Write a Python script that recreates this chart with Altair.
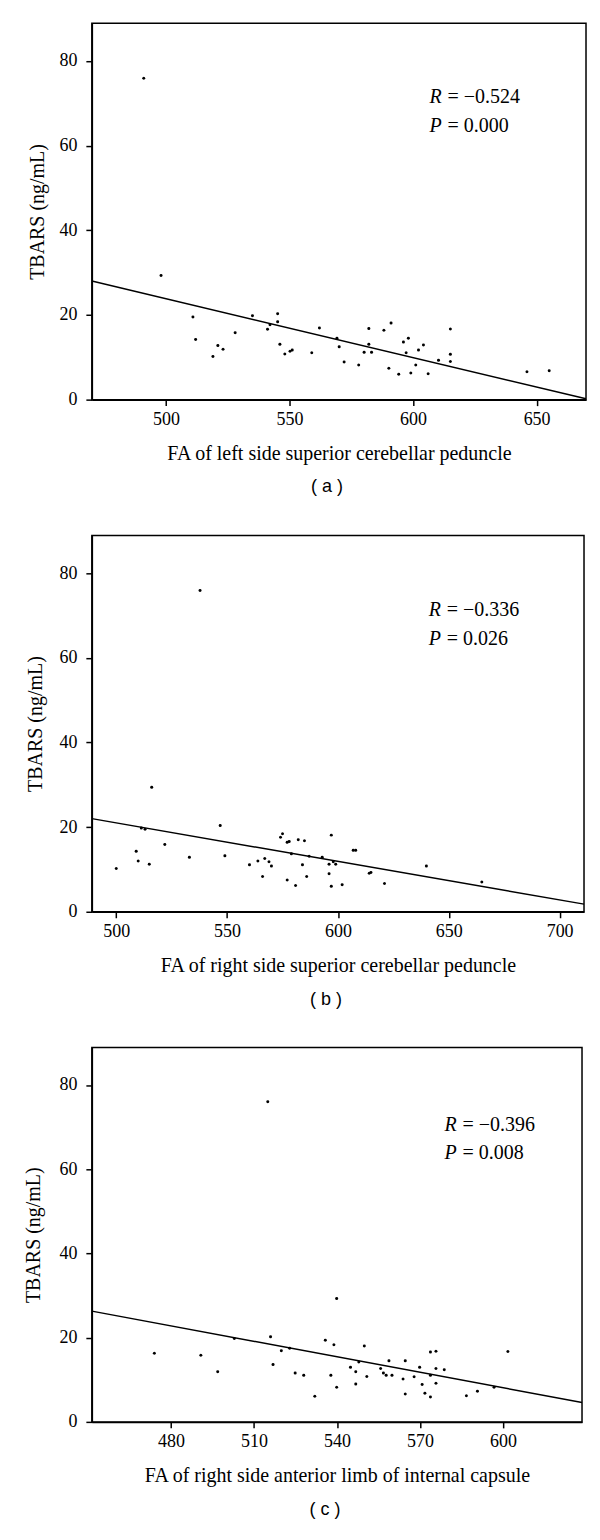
import altair as alt
import pandas as pd

# ---------------- data ----------------
# Panel (a): FA of left side superior cerebellar peduncle
a_x = [491.0, 498.0, 510.9, 512.0, 519.0, 521.0, 523.1, 528.0, 535.0, 541.1,
       542.1, 545.2, 545.2, 546.1, 548.1, 550.2, 551.1, 559.0, 562.1, 569.2,
       570.1, 572.1, 578.0, 580.2, 582.1, 582.1, 583.2, 588.2, 590.2, 591.1,
       594.2, 596.1, 597.2, 598.1, 599.1, 601.1, 602.2, 604.2, 606.1, 610.3,
       615.1, 615.1, 615.1, 646.1, 655.1]
a_y = [75.9, 29.3, 19.5, 14.2, 10.2, 12.8, 11.9, 15.8, 19.8, 16.6,
       17.7, 20.3, 18.4, 13.1, 10.8, 11.4, 11.7, 11.1, 16.9, 14.5,
       12.5, 8.9, 8.2, 11.2, 16.8, 13.1, 11.2, 16.4, 7.4, 18.1,
       6.0, 13.6, 11.1, 14.5, 6.3, 8.2, 11.7, 12.9, 6.1, 9.3,
       16.7, 10.7, 9.0, 6.6, 6.8]
a_line_x = [470, 670]
a_line_y = [28.0, 0.2]

# Panel (b): FA of right side superior cerebellar peduncle
b_x = [537.8, 516.0, 500.0, 509.0, 509.9, 511.3, 513.0, 514.9, 521.9, 533.0,
       546.9, 549.0, 560.1, 563.9, 566.0, 567.0, 568.9, 570.0, 574.1, 575.0,
       577.1, 578.0, 577.1, 579.0, 580.9, 582.1, 584.0, 584.9, 585.9, 587.0,
       592.9, 596.0, 596.0, 597.0, 597.0, 597.9, 599.0, 601.9, 606.9, 608.0,
       614.1, 614.9, 621.0, 639.9, 664.9]
b_y = [75.9, 29.4, 10.2, 14.3, 12.0, 19.8, 19.5, 11.2, 15.9, 12.9,
       20.4, 13.2, 11.1, 12.0, 8.3, 12.6, 11.8, 10.8, 17.6, 18.4,
       16.4, 16.6, 7.5, 13.7, 6.2, 17.0, 11.1, 16.8, 8.3, 13.1,
       12.9, 11.2, 9.0, 18.1, 6.0, 11.8, 11.2, 6.4, 14.5, 14.5,
       9.1, 9.3, 6.7, 10.8, 7.0]
b_line_x = [489, 711]
b_line_y = [22.0, 1.8]

# Panel (c): FA of right side anterior limb of internal capsule
c_x = [515.0, 539.9, 474.0, 490.8, 496.9, 502.9, 516.0, 516.9, 519.9, 522.9,
       524.9, 528.0, 532.0, 535.8, 537.8, 538.9, 539.9, 544.9, 546.8, 546.8,
       547.9, 549.9, 550.8, 555.8, 556.8, 557.8, 558.8, 559.9, 563.9, 564.7,
       564.7, 567.9, 569.9, 570.8, 571.8, 573.8, 573.8, 573.8, 575.8, 575.8,
       575.8, 578.8, 586.8, 590.8, 596.8, 601.8]
c_y = [76.0, 29.3, 16.3, 15.8, 11.9, 19.8, 20.2, 13.6, 16.9, 17.5,
       11.6, 11.1, 6.1, 19.4, 11.1, 18.3, 8.2, 13.0, 11.9, 9.0,
       14.2, 18.0, 10.8, 12.7, 11.6, 11.1, 14.5, 11.1, 10.2, 14.5,
       6.6, 10.7, 13.0, 8.9, 6.8, 16.6, 11.1, 5.9, 16.8, 12.7,
       9.2, 12.4, 6.2, 7.3, 8.2, 16.7]
c_line_x = [451.4, 628.6]
c_line_y = [26.3, 4.6]

x_titles = ["FA of left side superior cerebellar peduncle",
            "FA of right side superior cerebellar peduncle",
            "FA of right side anterior limb of internal capsule"]
x_ticks = [[500, 550, 600, 650],
           [500, 550, 600, 650, 700],
           [480, 510, 540, 570, 600]]
x_domains = [[470, 670], [489, 711], [451.4, 628.6]]
y_ticks = [0, 20, 40, 60, 80]
y_title = "TBARS (ng/mL)"
r_texts = ["= \u22120.524", "= \u22120.336", "= \u22120.396"]
p_texts = ["= 0.000", "= 0.026", "= 0.008"]
ann_x = [606.7, 641.0, 578.9]
ann_r_y = [70.0, 69.8, 69.0]
ann_p_y = [63.3, 63.1, 62.5]
panel_labels = ["( a )", "( b )", "( c )"]

SERIF = "Liberation Serif"
SANS = "Liberation Sans"


def panel(i, xs, ys, lx, ly, width, height, ytp):
    pts = pd.DataFrame({"x": xs, "y": ys})
    ln = pd.DataFrame({"x": lx, "y": ly})
    ann = pd.DataFrame({"x": [ann_x[i], ann_x[i]],
                        "y": [ann_r_y[i], ann_p_y[i]],
                        "sym": ["R", "P"],
                        "rest": [r_texts[i], p_texts[i]]})
    xscale = alt.Scale(domain=x_domains[i], nice=False, zero=False)
    yscale = alt.Scale(domain=[0, 88.9], nice=False, zero=False)
    xaxis = alt.Axis(values=x_ticks[i], title=x_titles[i], grid=False,
                     labelPadding=5, titlePadding=15, format="d")
    yaxis = alt.Axis(values=y_ticks, title=y_title, grid=False,
                     labelPadding=9, titlePadding=ytp, format="d")

    line = alt.Chart(ln).mark_line(color="black", strokeWidth=1.5, clip=True).encode(
        x=alt.X("x:Q", scale=xscale, axis=xaxis),
        y=alt.Y("y:Q", scale=yscale, axis=yaxis))
    points = alt.Chart(pts).mark_circle(size=9, color="black", opacity=1).encode(
        x=alt.X("x:Q", scale=xscale),
        y=alt.Y("y:Q", scale=yscale))
    sym = alt.Chart(ann).mark_text(align="left", baseline="alphabetic", font=SERIF,
                                   fontSize=20, fontStyle="italic", color="black").encode(
        x=alt.X("x:Q", scale=xscale), y=alt.Y("y:Q", scale=yscale), text="sym:N")
    rest = alt.Chart(ann).mark_text(align="left", baseline="alphabetic", font=SERIF,
                                    fontSize=20, dx=18, color="black").encode(
        x=alt.X("x:Q", scale=xscale), y=alt.Y("y:Q", scale=yscale), text="rest:N")

    return alt.layer(line, points, sym, rest).properties(
        width=width, height=height,
        title=alt.TitleParams(panel_labels[i], orient="bottom", font=SANS, fontSize=18,
                              fontWeight="normal", color="black", offset=15, dx=-12))


pa = panel(0, a_x, a_y, a_line_x, a_line_y, 495, 377, 11)
pb = panel(1, b_x, b_y, b_line_x, b_line_y, 493, 377, 13)
pc = panel(2, c_x, c_y, c_line_x, c_line_y, 491, 375, 15)

chart = alt.vconcat(pa, pb, pc, spacing=37).properties(
    padding={"left": 15, "top": 13, "right": 5, "bottom": 5}
).configure_view(
    stroke="black", strokeWidth=1.5
).configure_axis(
    domainColor="black", domainWidth=1.5, tickColor="black", tickWidth=1.5, tickSize=6,
    labelFont=SERIF, labelFontSize=18, labelColor="black",
    titleFont=SERIF, titleFontSize=20, titleFontWeight="normal", titleColor="black"
)

chart.save("out.html", embed_options={"renderer": "svg", "actions": False})
